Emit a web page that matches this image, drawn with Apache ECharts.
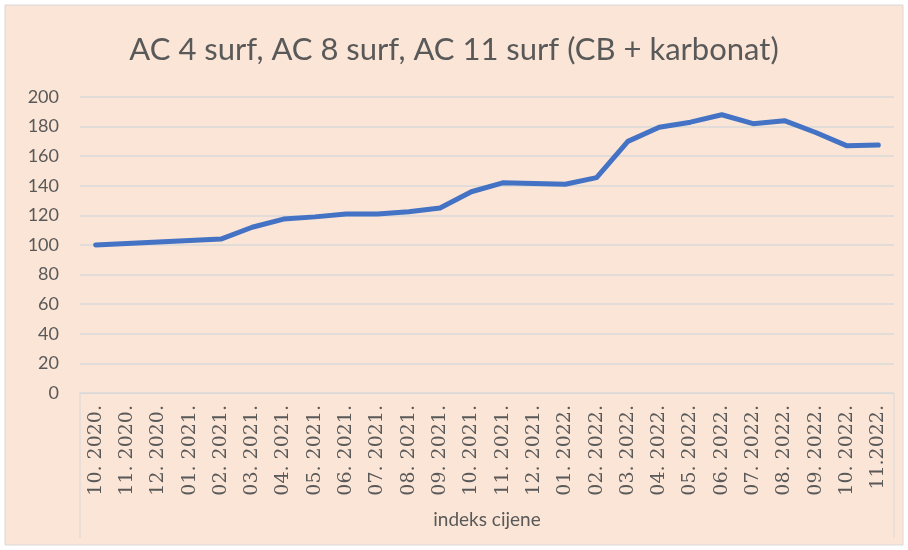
<!DOCTYPE html>
<html>
<head>
<meta charset="utf-8">
<script src="https://cdn.jsdelivr.net/npm/echarts@6/dist/echarts.min.js"></script>
<style>
  html, body { margin: 0; padding: 0; background: #ffffff; }
  #chart { width: 908px; height: 550px; }
</style>
</head>
<body>
<div id="chart"></div>
<script>
// mjeseci (kategorije)
var months = [
  '10. 2020.', '11. 2020.', '12. 2020.',
  '01. 2021.', '02. 2021.', '03. 2021.', '04. 2021.', '05. 2021.', '06. 2021.',
  '07. 2021.', '08. 2021.', '09. 2021.', '10. 2021.', '11. 2021.', '12. 2021.',
  '01. 2022.', '02. 2022.', '03. 2022.', '04. 2022.', '05. 2022.', '06. 2022.',
  '07. 2022.', '08. 2022.', '09. 2022.', '10. 2022.', '11.2022.'
]

// indeks cijene
var indeks = [
  100, 101, 102, 103, 104, 112, 117.5, 119, 121, 121, 122.5, 125, 136,
  142, 141.5, 141, 145.5, 170, 179.5, 183, 188, 182, 184, 176, 167, 167.5
]

var chart = echarts.init(document.getElementById('chart'), null, { renderer: 'canvas' })

var option = {
  backgroundColor: '#ffffff',
  title: {
    text: 'AC 4 surf, AC 8 surf, AC 11 surf (CB + karbonat)',
    left: 'center',
    top: 29,
    textStyle: {
      fontFamily: 'Lato',
      fontWeight: 'normal',
      fontSize: 31,
      color: '#595959'
    }
  },
  graphic: [
    {
      type: 'rect',
      z: -10,
      shape: { x: 5, y: 5, width: 898, height: 540 },
      style: { fill: '#fbe5d6', stroke: '#d9d9d9', lineWidth: 1 }
    },
    {
      type: 'polyline',
      z: 1,
      shape: { points: [[80, 393], [80, 538]] },
      style: { stroke: '#d9d9d9', lineWidth: 1, fill: null }
    },
    {
      type: 'polyline',
      z: 1,
      shape: { points: [[894, 393], [894, 538]] },
      style: { stroke: '#d9d9d9', lineWidth: 1, fill: null }
    }
  ],
  grid: {
    left: 80,
    right: 14,
    top: 97,
    bottom: 157
  },
  xAxis: {
    type: 'category',
    data: months,
    boundaryGap: true,
    name: 'indeks cijene',
    nameLocation: 'middle',
    nameGap: 117,
    nameTextStyle: {
      fontFamily: 'Lato',
      fontSize: 19,
      color: '#595959'
    },
    axisLine: { lineStyle: { color: '#d9d9d9', width: 1 } },
    axisTick: { show: false },
    axisLabel: {
      interval: 0,
      rotate: 90,
      margin: 12,
      fontFamily: 'DejaVu Serif',
      fontSize: 19,
      color: '#595959'
    }
  },
  yAxis: {
    type: 'value',
    min: 0,
    max: 200,
    interval: 20,
    axisLine: { show: false },
    axisTick: { show: false },
    axisLabel: {
      margin: 21,
      fontFamily: 'Lato',
      fontSize: 18,
      color: '#595959'
    },
    splitLine: { lineStyle: { color: '#d9d9d9', width: 1.5 } }
  },
  series: [{
    name: 'indeks cijene',
    type: 'line',
    data: indeks,
    symbol: 'none',
    lineStyle: { color: '#4472c4', width: 5, cap: 'round', join: 'round' },
    itemStyle: { color: '#4472c4' }
  }]
}

chart.setOption(option)
</script>
</body>
</html>
